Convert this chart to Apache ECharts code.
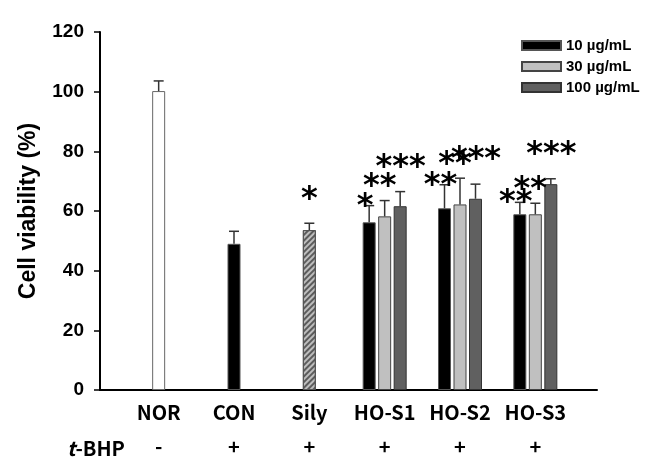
<!DOCTYPE html>
<html>
<head>
<meta charset="utf-8">
<script src="https://cdn.jsdelivr.net/npm/echarts@6/dist/echarts.min.js"></script>
<style>html,body{margin:0;padding:0;background:#fff}#c{width:666px;height:464px}</style>
</head>
<body>
<div id="c"></div>
<script>
// ---- data ----
const categories = ['NOR', 'CON', 'Sily', 'HO-S1', 'HO-S2', 'HO-S3'];
const tbhp = ['-', '+', '+', '+', '+', '+'];
const seriesNames = ['10 µg/mL', '30 µg/mL', '100 µg/mL'];
const v10  = [null, null, null, 56.2, 60.9, 58.9];
const e10  = [null, null, null, 5.6, 7.9, 4.0];
const v30  = [100.2, 49.0, 53.6, 58.2, 62.2, 58.9];
const e30  = [3.4, 4.2, 2.3, 5.3, 8.8, 3.7];
const v100 = [null, null, null, 61.6, 64.1, 69.0];
const e100 = [null, null, null, 4.9, 4.9, 1.8];
const sig10  = ['', '', '', '*', '**', '**'];
const sig30  = ['', '', '*', '**', '**', '**'];
const sig100 = ['', '', '', '***', '***', '***'];
const yMin = 0, yMax = 120, yStep = 20;

// ---- styles ----
const FONT = 'Liberation Sans, Arial, sans-serif';
const CATFONT = 'Noto Sans CJK KR, Open Sans, sans-serif';
const STARFONT = 'DejaVu Sans, sans-serif';
const STAR_SIZE = 32;
const BAR_W = 13, BAR_GAP = 2.5;
const fills = ['#000000', '#c0c0c0', '#606060'];
const borders = ['#555555', '#444444', '#333333'];
const starDx = [-4, -5, 0.5];
const starDy = [9, 23, 34];

const values = [v10, v30, v100];
const errs = [e10, e30, e100];
const sigs = [sig10, sig30, sig100];

const special = [
  { color: '#ffffff', borderColor: '#666666', borderWidth: 1 },
  { color: '#000000', borderColor: '#555555', borderWidth: 1 },
  { color: '#bdbdbd', borderColor: '#555555', borderWidth: 1,
    decal: { symbol: 'rect', symbolSize: 1, dashArrayX: [[1, 0]], dashArrayY: [2, 2],
             rotation: -Math.PI / 4, color: 'rgba(60,60,60,0.75)' } }
];

const barSeries = values.map((arr, s) => ({
  name: seriesNames[s],
  type: 'bar',
  xAxisIndex: 1, yAxisIndex: 1,
  barWidth: BAR_W,
  barGap: (BAR_GAP / BAR_W * 100) + '%',
  itemStyle: { color: fills[s], borderColor: borders[s], borderWidth: 1 },
  data: arr.map((v, i) => {
    if (v == null) return '-';
    if (s === 1 && i < 3) return { value: v, itemStyle: special[i] };
    return v;
  }),
  z: 2
}));

const errSeries = values.map((arr, s) => ({
  type: 'custom',
  xAxisIndex: 1, yAxisIndex: 1,
  silent: true,
  z: 3,
  data: arr.map((v, i) => v == null ? null : [i, v, errs[s][i]]).filter(d => d),
  renderItem: function (params, api) {
    const idx = api.value(0), v = api.value(1), e = api.value(2);
    const off = (s - 1) * (BAR_W + BAR_GAP);
    const b = api.coord([idx, v]);
    const t = api.coord([idx, v + e]);
    const x = b[0] + off;
    const children = [
      { type: 'line', shape: { x1: x, y1: b[1], x2: x, y2: t[1] },
        style: { stroke: '#333', lineWidth: 1.5 } },
      { type: 'line', shape: { x1: x - 5, y1: t[1], x2: x + 5, y2: t[1] },
        style: { stroke: '#333', lineWidth: 1.5 } }
    ];
    const sg = sigs[s][idx];
    if (sg) {
      const dy = (s === 1 && idx === 2) ? 33 : starDy[s];
      const dx = (s === 1 && idx === 2) ? 0 : starDx[s];
      children.push({ type: 'text', style: {
        text: sg, x: x + dx, y: t[1] - dy + 0.3 * STAR_SIZE,
        textAlign: 'center', textVerticalAlign: 'middle',
        font: 'bold ' + STAR_SIZE + 'px ' + STARFONT, fill: '#000' } });
    }
    return { type: 'group', children };
  }
}));

const chart = echarts.init(document.getElementById('c'), null, { renderer: 'canvas' });
chart.setOption({
  animation: false,
  backgroundColor: '#fff',
  textStyle: { fontFamily: FONT },
  title: {
    text: '{i|t}{n|-BHP}',
    left: 62, top: 433,
    textStyle: { rich: {
      i: { fontFamily: CATFONT, fontWeight: 'bold', fontStyle: 'italic', fontSize: 20, color: '#000' },
      n: { fontFamily: CATFONT, fontWeight: 'bold', fontSize: 20, color: '#000' }
    } }
  },
  legend: {
    data: seriesNames,
    orient: 'vertical',
    left: 516, top: 33,
    itemWidth: 39, itemHeight: 9, itemGap: 6,
    icon: 'rect',
    textStyle: { fontFamily: FONT, fontWeight: 'bold', fontSize: 15, color: '#000' }
  },
  grid: [
    { left: 100, right: 69, top: 32, bottom: 74 },
    { left: 121, right: 93, top: 32, bottom: 74 }
  ],
  xAxis: [
    { gridIndex: 0, type: 'value', min: 0, max: 1,
      axisLine: { show: true, lineStyle: { color: '#000', width: 2 } },
      axisTick: { show: false }, axisLabel: { show: false }, splitLine: { show: false } },
    { gridIndex: 1, type: 'category', data: categories,
      axisLine: { show: false }, axisTick: { show: false },
      axisLabel: {
        margin: 5,
        formatter: (val, i) => '{a|' + val + '}\n{b|' + tbhp[i] + '}',
        rich: {
          a: { fontFamily: CATFONT, fontWeight: 'bold', fontSize: 20, color: '#000', lineHeight: 34 },
          b: { fontFamily: CATFONT, fontWeight: 'bold', fontSize: 20, color: '#000', lineHeight: 34 }
        }
      } }
  ],
  yAxis: [
    { gridIndex: 0, type: 'value', min: yMin, max: yMax, interval: yStep,
      name: 'Cell viability (%)', nameLocation: 'middle', nameGap: 60,
      nameTextStyle: { fontFamily: FONT, fontWeight: 'bold', fontSize: 23, color: '#000' },
      axisLine: { show: true, lineStyle: { color: '#000', width: 2 } },
      axisTick: { show: true, length: 6, lineStyle: { color: '#000', width: 1.5 } },
      axisLabel: { margin: 16, fontFamily: FONT, fontWeight: 'bold', fontSize: 19, color: '#000' },
      splitLine: { show: false } },
    { gridIndex: 1, type: 'value', min: yMin, max: yMax, interval: yStep, show: false,
      splitLine: { show: false } }
  ],
  series: barSeries.concat(errSeries)
});
</script>
</body>
</html>
